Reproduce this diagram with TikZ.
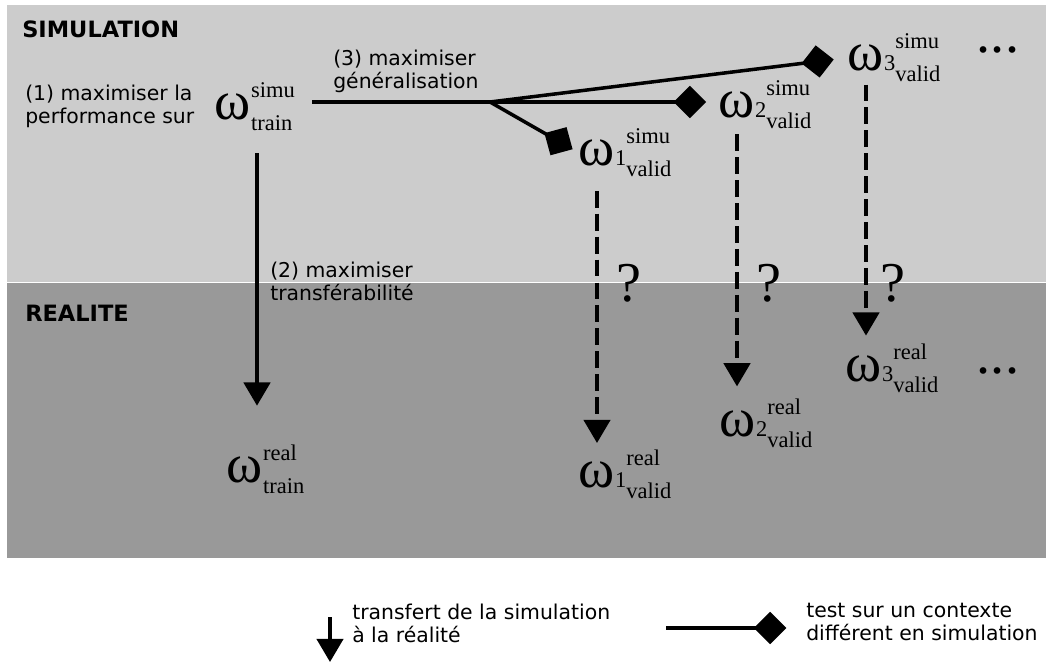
\documentclass[tikz,border=0pt]{standalone}
\usepackage{fontspec}
\setmainfont{DejaVu Sans}
\newfontfamily\omfont{Liberation Serif}
\usetikzlibrary{arrows.meta,positioning,calc}
\definecolor{simgray}{RGB}{204,204,204}
\definecolor{realgray}{RGB}{153,153,153}
% omega with index, upper and lower script
\newcommand{\omlab}[3]{{\omfont\fontsize{39}{39}\selectfont ω}\rlap{\omfont\fontsize{16}{16}\selectfont #1\rlap{\raisebox{15pt}{#2}}\raisebox{-8pt}{#3}}}
\tikzset{
  simarr/.style={-{Triangle[length=5.8mm,width=6.6mm]}, line width=2.5pt},
  testarr/.style={-{Triangle[length=5.8mm,width=6.6mm]}, line width=2.5pt,
                  dash pattern=on 12pt off 4.3pt},
  testline/.style={-{Diamond[length=8.1mm,width=8.1mm]}, line width=2.5pt},
  txt/.style={font=\fontsize{14.5}{16.5}\selectfont, align=left, inner sep=0pt, anchor=west},
  zone/.style={font=\fontsize{16}{19}\selectfont\bfseries, inner sep=0pt, anchor=west},
  omnode/.style={inner sep=0pt, anchor=base},
  qmark/.style={font=\omfont\fontsize{40}{40}\selectfont, inner sep=0pt},
}
\begin{document}
\begin{tikzpicture}[x=0.025cm, y=-0.025cm]
  \useasboundingbox (0,0) rectangle (1046,664);
  % the two worlds
  \fill[simgray] (7,5) rectangle (1046,281.5);
  \fill[realgray] (7,283) rectangle (1046,558);
  \node[zone] (simzone) at (22,29) {SIMULATION};
  \node[zone] (realzone) at (25,313) {REALITE};

  % parameters in simulation
  \node[omnode] (wtrainsim) at (233,119) {\omlab{}{simu}{train}};
  \node[omnode] (wsim1) at (597,165) {\omlab{1}{simu}{valid}};
  \node[omnode] (wsim2) at (737,117) {\omlab{2}{simu}{valid}};
  \node[omnode] (wsim3) at (866,70) {\omlab{3}{simu}{valid}};
  \node[qmark, anchor=base] (dotsim) at (998,52) {...};
  % parameters in reality
  \node[omnode] (wtrainreal) at (245,482) {\omlab{}{real}{train}};
  \node[omnode] (wreal1) at (597,487) {\omlab{1}{real}{valid}};
  \node[omnode] (wreal2) at (738,436) {\omlab{2}{real}{valid}};
  \node[omnode] (wreal3) at (864,381) {\omlab{3}{real}{valid}};
  \node[qmark, anchor=base] (dotreal) at (998,373) {...};

  \node[txt] (perf) at (25,106) {(1) maximiser la\\performance sur};
  \node[txt] (gen) at (333,71) {(3) maximiser\\généralisation};
  \node[txt] (transf) at (270,281) {(2) maximiser\\transférabilité};

  % tests in other contexts
  \coordinate (gstart) at (312,102);
  \coordinate (branch) at (490,102);
  \draw[line width=2.5pt] (gstart) -- (branch);
  \draw[testline, shorten >=9pt] (branch) -- (branch -| wsim2.west);
  \draw[testline, shorten >=10pt] (branch) -- (wsim3.west);
  \draw[testline, shorten >=5pt] (branch) -- (wsim1.west);

  % transfer to reality
  \draw[simarr, shorten <=16pt, shorten >=28pt] ($(wtrainsim.south)+(24,0)$)
    -- ($(wtrainsim.south |- wtrainreal.north)+(24,0)$);
  \draw[testarr, shorten <=10pt, shorten >=5pt] (wsim1.south) -- (wsim1.south |- wreal1.north);
  \draw[testarr, shorten <=4pt, shorten >=9pt] (wsim2.south) -- (wsim2.south |- wreal2.north);
  \draw[testarr, shorten <=2pt, shorten >=6pt] (wsim3.south) -- (wsim3.south |- wreal3.north);
  \node[qmark] (q1) at (629,283) {?};
  \node[qmark] (q2) at (769,283) {?};
  \node[qmark] (q3) at (893,283) {?};

  % legend
  \node[txt] (legsim) at (352,623) {transfert de la simulation\\à la réalité};
  \node[txt] (legtest) at (806,622) {test sur un contexte\\différent en simulation};
  \coordinate (legtop) at (330,617);
  \coordinate (legbot) at (330,662);
  \draw[simarr] (legtop) -- (legbot);
  \coordinate (legstart) at (666,628);
  \draw[testline, shorten >=14pt] (legstart) -- (legstart -| legtest.west);
\end{tikzpicture}
\end{document}
